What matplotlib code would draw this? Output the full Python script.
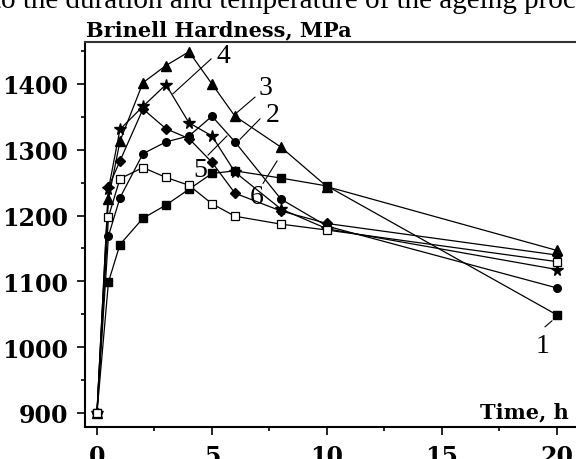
import matplotlib
matplotlib.use("Agg")
import matplotlib.pyplot as plt
from matplotlib.ticker import MultipleLocator

# ageing time, h
time = [0, 0.5, 1, 2, 3, 4, 5, 6, 8, 10, 20]

# Brinell hardness, MPa
hb_sq_filled = [900, 1099, 1156, 1196, 1216, 1240, 1264, 1268, 1257, 1245, 1049]
hb_circle    = [900, 1169, 1227, 1294, 1312, 1321, 1351, 1312, 1225, 1184, 1090]
hb_star      = [900, 1240, 1331, 1366, 1399, 1341, 1321, 1266, 1210, 1180, 1118]
hb_triangle  = [900, 1225, 1313, 1402, 1428, 1449, 1400, 1351, 1304, 1244, 1147]
hb_diamond   = [900, 1243, 1283, 1362, 1332, 1317, 1281, 1234, 1207, 1188, 1140]
hb_sq_open   = [900, 1198, 1256, 1273, 1258, 1246, 1218, 1199, 1187, 1178, 1130]

curve_labels = ["1", "2", "3", "4", "5", "6"]

fig = plt.figure(figsize=(5.76, 4.6), dpi=100)
# axes placed in pixels: left 85, bottom 428, top 43, right off-canvas
ax = fig.add_axes([85 / 576, 32 / 460, 505 / 576, 385 / 460])
ax.set_xlim(-0.52, (590 - 97) / 23)
ax.set_ylim(878.7, 1463.8)

lw = 0.9
ax.plot(time, hb_sq_filled, color="black", lw=lw, marker="s", ms=5.2, mfc="black", mec="black")
ax.plot(time, hb_circle, color="black", lw=lw, marker="o", ms=5.5, mfc="black", mec="black")
ax.plot(time, hb_star, color="black", lw=lw, marker="*", ms=8.5, mfc="black", mec="black")
ax.plot(time, hb_triangle, color="black", lw=lw, marker="^", ms=6.5, mfc="black", mec="black")
ax.plot(time, hb_diamond, color="black", lw=lw, marker="D", ms=5.2, mfc="black", mec="black")
ax.plot(time, hb_sq_open, color="black", lw=lw, marker="s", ms=5.2, mfc="white", mec="black", mew=0.9)

# curve numbers with leader lines
lab_pos = [(19.39, 1003), (7.65, 1354), (7.32, 1395), (5.50, 1443), (4.50, 1270), (6.96, 1229)]
leaders = [((19.48, 1031), (19.78, 1040)),
           ((7.09, 1347), (6.22, 1316)),
           ((6.87, 1380), (6.0, 1354)),
           ((4.96, 1438), (3.30, 1385)),
           ((4.83, 1292), (5.65, 1321)),
           ((7.22, 1249), (7.83, 1283))]
for lab, (lx, ly), (p0, p1) in zip(curve_labels, lab_pos, leaders):
    ax.text(lx, ly, lab, fontsize=20, family="Liberation Serif", ha="center", va="center")
    ax.plot([p0[0], p1[0]], [p0[1], p1[1]], color="black", lw=0.8)

ax.xaxis.set_major_locator(MultipleLocator(5))
ax.xaxis.set_minor_locator(MultipleLocator(2.5))
ax.yaxis.set_major_locator(MultipleLocator(100))
ax.yaxis.set_minor_locator(MultipleLocator(50))
ax.tick_params(which="major", direction="out", length=6, width=1.2, pad=6,
               labelsize=17)
ax.tick_params(which="minor", direction="out", length=3, width=1.2)
for lab in ax.get_xticklabels() + ax.get_yticklabels():
    lab.set_family("DejaVu Serif")
    lab.set_fontweight("bold")

ax.spines["right"].set_visible(False)
for s in ["left", "bottom"]:
    ax.spines[s].set_linewidth(1.5)
ax.spines["top"].set_linewidth(1.5)
ax.spines["top"].set_color("#333333")

fig.text(569 / 576, 1 - 418 / 460, "Time, h", ha="right", va="baseline",
         fontsize=15, family="DejaVu Serif", fontweight="bold")
fig.text(86 / 576, 1 - 36 / 460, "Brinell Hardness, MPa", ha="left", va="baseline",
         fontsize=15, family="DejaVu Serif", fontweight="bold")
# caption text of the page, cut off at the top
fig.text(-7 / 576, 1 - 8 / 460, "to the duration and temperature of the ageing process",
         ha="left", va="baseline", fontsize=21, family="Liberation Serif")

fig.savefig("out.png", dpi=100)
